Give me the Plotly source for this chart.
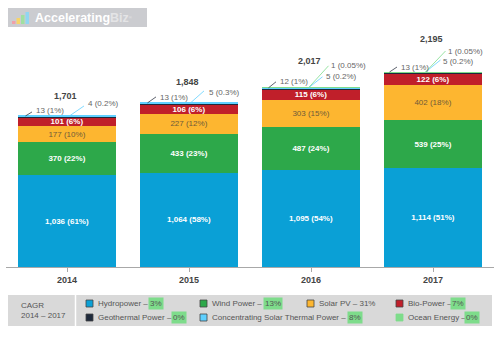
import plotly.graph_objects as go

# ---------------- data ----------------
years = ["2014", "2015", "2016", "2017"]
hydro = [1036, 1064, 1095, 1114]
wind = [370, 433, 487, 539]
solar = [177, 227, 303, 402]
bio = [101, 106, 115, 122]
geo = [13, 13, 12, 13]
csp = [4, 5, 5, 5]
ocean = [0, 0, 1, 1]
totals = [1701, 1848, 2017, 2195]

hydro_pct = ["61%", "58%", "54%", "51%"]
wind_pct = ["22%", "23%", "24%", "25%"]
solar_pct = ["10%", "12%", "15%", "18%"]
bio_pct = ["6%", "6%", "6%", "6%"]
geo_pct = ["1%", "1%", "1%", "1%"]
csp_pct = ["0.2%", "0.3%", "0.2%", "0.2%"]
ocean_pct = ["", "", "0.05%", "0.05%"]

legend_names = ["Hydropower", "Wind Power", "Solar PV", "Bio-Power",
                "Geothermal Power", "Concentrating Solar Thermal Power", "Ocean Energy"]
cagr = ["3%", "13%", "31%", "7%", "0%", "8%", "0%"]
cagr_highlight = [True, True, False, True, True, True, True]

# ---------------- styles ----------------
FONT = "Liberation Sans, Arial, Helvetica, sans-serif"
C_HYDRO = "#0aa0d6"
C_WIND = "#2da84a"
C_SOLAR = "#fdb630"
C_BIO = "#c01f2a"
C_GEO = "#1e2a3c"
C_CSP = "#5fd0ff"
C_OCEAN = "#7edc8b"
HL = "#7edc8b"
colors = [C_HYDRO, C_WIND, C_SOLAR, C_BIO, C_GEO, C_CSP, C_OCEAN]

L, R, T, B = 6, 6, 10, 89
W, H = 500 - L - R, 356 - T - B
YMAX = H / 0.0888


def pxx(x):
    return (x - L) / W


def pxy(y):
    return (T + H - y) / H


def lab(vals, pcts):
    return [f"{v:,} ({p})" for v, p in zip(vals, pcts)]


fig = go.Figure()
series = [
    (hydro, hydro_pct, C_HYDRO, "white", "bold"),
    (wind, wind_pct, C_WIND, "white", "bold"),
    (solar, solar_pct, C_SOLAR, "#6f5b3a", "normal"),
    (bio, bio_pct, C_BIO, "white", "bold"),
]
for vals, pcts, col, tcol, wt in series:
    fig.add_trace(go.Bar(
        x=years, y=vals, marker=dict(color=col, line=dict(width=0)),
        text=lab(vals, pcts), textposition="inside", insidetextanchor="middle",
        textangle=0, textfont=dict(family=FONT, size=8, color=tcol, weight=wt),
        hoverinfo="skip", showlegend=False))
for vals, col in [(geo, C_GEO), (csp, C_CSP), (ocean, C_OCEAN)]:
    fig.add_trace(go.Bar(x=years, y=vals, marker=dict(color=col, line=dict(width=0)),
                         hoverinfo="skip", showlegend=False))

stack_top = [sum(v) for v in zip(hydro, wind, solar, bio, geo, csp, ocean)]

shapes = []
annotations = []

# leader-line offsets (pixels relative to bar centre / bar top)
geo_line = [(-41.5, -35, 4), (-41.5, -33, 6), (-42.5, -35, 6), (-43.5, -36, 5)]
geo_text = [(-33.5, 5), (-31.5, 5), (-33.5, 6), (-34.5, 5)]
csp_line = [(2.5, 17, 10), (1.5, 15, 12), (-2.5, 11.5, 11), (-7.5, 7.5, 12)]
csp_text = [(18.5, 12), (17.5, 10), (12.5, 11), (7.5, 11)]
ocean_line = [None, None, (-2.5, 17.5, 22), (-7.5, 12.5, 21)]
ocean_text = [None, None, (17.5, 22), (12.5, 21)]
total_shift = [20, 21, 27, 33]

small_font = dict(family=FONT, size=8, color="#666")
for i, yr in enumerate(years):
    top = stack_top[i]
    for line, txt, vals, pcts, lcol in [
        (geo_line[i], geo_text[i], geo, geo_pct, "#333a48"),
        (csp_line[i], csp_text[i], csp, csp_pct, C_CSP),
        (ocean_line[i], ocean_text[i], ocean, ocean_pct, C_OCEAN),
    ]:
        if line is None:
            continue
        x0, x1, y1 = line
        shapes.append(dict(type="line", xref="x", yref="y", xsizemode="pixel", ysizemode="pixel",
                           xanchor=i, yanchor=top, x0=x0, x1=x1, y0=0, y1=y1,
                           line=dict(color=lcol, width=0.8)))
        annotations.append(dict(x=i, y=top, xref="x", yref="y", xshift=txt[0], yshift=txt[1],
                                xanchor="left", yanchor="middle", showarrow=False,
                                text=f"{vals[i]:,} ({pcts[i]})", font=small_font))
    annotations.append(dict(x=i, y=totals[i], xref="x", yref="y", xshift=-2, yshift=total_shift[i],
                            xanchor="center", yanchor="middle", showarrow=False,
                            text=f"{totals[i]:,}",
                            font=dict(family=FONT, size=9, color="#444", weight="bold")))

# ---------------- logo ----------------
shapes.append(dict(type="rect", xref="paper", yref="paper", x0=pxx(8), x1=pxx(147), y0=pxy(27), y1=pxy(8),
                   fillcolor="#cbccd0", line=dict(width=0), layer="above"))
for k, (c, h) in enumerate([("#f0a0a8", 3), ("#f7d46a", 6), ("#9fe0a0", 9), ("#8fd6f2", 12)]):
    shapes.append(dict(type="rect", xref="paper", yref="paper", x0=pxx(12 + k * 4.5), x1=pxx(15.5 + k * 4.5),
                       y0=pxy(24), y1=pxy(24 - h), fillcolor=c, line=dict(width=0), layer="above"))
annotations.append(dict(x=pxx(33), y=pxy(17.5), xref="paper", yref="paper", xanchor="left", yanchor="middle",
                        showarrow=False,
                        text="Accelerating<span style='color:#e4e4e6'>Biz</span><span style='color:#e4e4e6;font-size:6px'><sup>®</sup></span>",
                        font=dict(family=FONT, size=12.5, color="white", weight="bold")))

# ---------------- CAGR legend ----------------
shapes.append(dict(type="rect", xref="paper", yref="paper", x0=pxx(8), x1=pxx(492), y0=pxy(326), y1=pxy(295),
                   fillcolor="#d9d9d9", line=dict(width=0)))
shapes.append(dict(type="line", xref="paper", yref="paper", x0=pxx(75.5), x1=pxx(75.5), y0=pxy(326), y1=pxy(295),
                   line=dict(color="white", width=1.5)))
annotations.append(dict(x=pxx(19), y=pxy(310.5), xref="paper", yref="paper", xanchor="left", yanchor="middle",
                        showarrow=False, align="left", text="CAGR<br>2014 – 2017",
                        font=dict(family=FONT, size=8, color="#555")))

slots = [(86, 303.5), (200, 303.5), (307, 303.5), (396, 303.5), (86, 317.5), (200, 317.5), (396, 317.5)]
hl_x = [148, 263, None, 450, 171, 347, 464]
leg_font = dict(family=FONT, size=8, color="#555")
for k, name in enumerate(legend_names):
    sx, sy = slots[k]
    shapes.append(dict(type="rect", xref="paper", yref="paper", x0=pxx(sx), x1=pxx(sx + 7),
                       y0=pxy(sy + 3.5), y1=pxy(sy - 3.5), fillcolor=colors[k],
                       line=dict(color="#444" if k != 6 else colors[k], width=0.8)))
    if cagr_highlight[k]:
        annotations.append(dict(x=pxx(sx + 10), y=pxy(sy), xref="paper", yref="paper", xanchor="left",
                                yanchor="middle", showarrow=False, text=f"{name} –", font=leg_font))
        annotations.append(dict(x=pxx(hl_x[k]), y=pxy(sy), xref="paper", yref="paper", xanchor="left",
                                yanchor="middle", showarrow=False, text=cagr[k], font=leg_font,
                                bgcolor=HL, borderpad=1))
    else:
        annotations.append(dict(x=pxx(sx + 10), y=pxy(sy), xref="paper", yref="paper", xanchor="left",
                                yanchor="middle", showarrow=False, text=f"{name} – {cagr[k]}", font=leg_font))

fig.update_layout(
    width=500, height=356, margin=dict(l=L, r=R, t=T, b=B),
    barmode="stack", bargap=0.2,
    paper_bgcolor="white", plot_bgcolor="white",
    uniformtext=dict(minsize=8, mode="show"),
    xaxis=dict(type="category", range=[-0.5, 3.5], showline=True, linecolor="#a8a8a8", linewidth=1,
               ticks="outside", ticklen=4, tickcolor="#a8a8a8", showgrid=False, automargin=False,
               tickfont=dict(family=FONT, size=9, color="#444", weight="bold"), fixedrange=True),
    yaxis=dict(visible=False, range=[0, YMAX], fixedrange=True, automargin=False),
    shapes=shapes, annotations=annotations,
)

fig.write_html("out.html", config={"displayModeBar": False},
               post_script="document.body.style.margin='0px';document.body.style.padding='0px';")
